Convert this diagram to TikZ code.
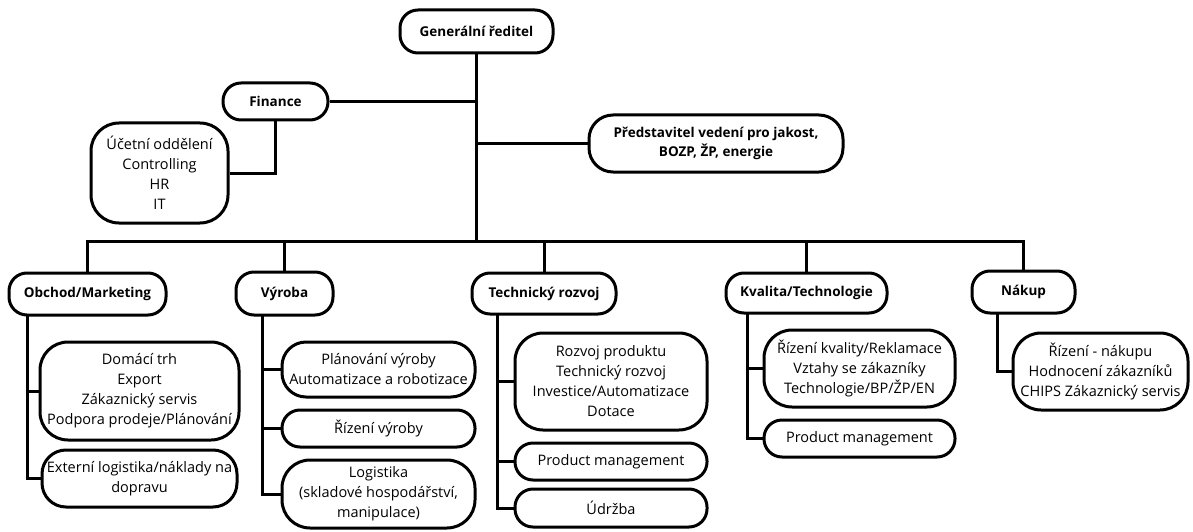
\documentclass[tikz,border=0pt]{standalone}
\usepackage{fontspec}
\setmainfont{Open Sans}
\begin{document}
\begin{tikzpicture}[x=1pt,y=-1pt,
  line width=3pt,
  lnk/.style={draw, line width=3pt},
  bx/.style={draw, line width=3pt, align=center, inner sep=0pt,
    rounded corners=18pt, fill=white},
  bigbx/.style={bx, rounded corners=28pt},
  hd/.style={bx, font=\bfseries\fontsize{13.5}{18.5}\selectfont},
  it/.style={font=\fontsize{14.5}{20}\selectfont},
]
\useasboundingbox (0,0) rectangle (1193,532);

% top level
\node[hd, minimum width=153pt, minimum height=43pt] (gr) at (476.5,31.5) {Generální ředitel};
\node[hd, minimum width=105pt, minimum height=37pt] (fin) at (275.5,101.5) {Finance};
\node[bigbx, it, minimum width=137pt, minimum height=100pt] (ucet) at (159.5,173)
  {Účetní oddělení\\Controlling\\HR\\IT};
\node[hd, rounded corners=24pt, minimum width=254pt, minimum height=57pt] (pred) at (716,143.5)
  {Představitel vedení pro jakost,\\BOZP, ŽP, energie};

% departments
\node[hd, minimum width=157pt, minimum height=42pt] (obch) at (87.5,294) {Obchod/Marketing};
\node[hd, minimum width=97pt, minimum height=43pt] (vyr) at (284.5,293.5) {Výroba};
\node[hd, minimum width=144pt, minimum height=41pt] (tech) at (544,293.5) {Technický rozvoj};
\node[hd, minimum width=161pt, minimum height=40pt] (kval) at (806.5,293) {Kvalita/Technologie};
\node[hd, minimum width=103pt, minimum height=42pt] (nak) at (1023.5,292) {Nákup};

% Obchod/Marketing
\node[bigbx, it, minimum width=199pt, minimum height=98pt] (dom) at (139.5,391)
  {Domácí trh\\Export\\Zákaznický servis\\Podpora prodeje/Plánování};
\node[bx, it, rounded corners=24pt, minimum width=195pt, minimum height=57pt] (ext) at (139.5,478.5)
  {Externí logistika/náklady na\\dopravu};

% Výroba
\node[bx, it, rounded corners=24pt, minimum width=193pt, minimum height=55pt] (plan) at (378.5,369.5)
  {Plánování výroby\\Automatizace a robotizace};
\node[bx, it, minimum width=193pt, minimum height=37pt] (rvyr) at (378.5,428.5) {Řízení výroby};
\node[bigbx, it, minimum width=193pt, minimum height=68pt] (log) at (378.5,494)
  {Logistika\\(skladové hospodářství,\\manipulace)};

% Technický rozvoj
\node[bigbx, it, minimum width=192pt, minimum height=97pt] (rozv) at (611,381.5)
  {Rozvoj produktu\\Technický rozvoj\\Investice/Automatizace\\Dotace};
\node[bx, it, minimum width=192pt, minimum height=37pt] (pma) at (611,461.5) {Product management};
\node[bx, it, minimum width=192pt, minimum height=38pt] (udr) at (611,508) {Údržba};

% Kvalita/Technologie
\node[bigbx, it, minimum width=191pt, minimum height=77pt] (rk) at (859.5,368.5)
  {Řízení kvality/Reklamace\\Vztahy se zákazníky\\Technologie/BP/ŽP/EN};
\node[bx, it, minimum width=191pt, minimum height=37pt] (pmb) at (859.5,438.5) {Product management};

% Nákup
\node[bigbx, it, minimum width=175pt, minimum height=77pt] (rn) at (1100.5,371.5)
  {Řízení - nákupu\\Hodnocení zákazníků\\CHIPS Zákaznický servis};

% connector anchors
\coordinate (bus) at (0,241);
\coordinate (obT) at (27,315);
\coordinate (vyT) at (262,315);
\coordinate (teT) at (497,314);
\coordinate (kvT) at (747,313);
\coordinate (naT) at (997,313);

% main spine
\draw[lnk] (gr.south) -- (gr.south |- bus);
\draw[lnk] (fin.east) -- (fin.east -| gr.south);
\draw[lnk] (fin.south) |- (ucet.east);
\draw[lnk] (pred.west) -- (pred.west -| gr.south);

% bus to departments
\draw[lnk, line join=miter] (obch.north) -- (obch.north |- bus) -- (nak.north |- bus) -- (nak.north);
\draw[lnk] (vyr.north) -- (vyr.north |- bus);
\draw[lnk] (tech.north) -- (tech.north |- bus);
\draw[lnk] (kval.north) -- (kval.north |- bus);

% department trunks
\draw[lnk] (obT) |- (ext.west);
\draw[lnk] (obT |- dom.west) -- (dom.west);
\draw[lnk] (vyT) |- (log.west);
\draw[lnk] (vyT |- plan.west) -- (plan.west);
\draw[lnk] (vyT |- rvyr.west) -- (rvyr.west);
\draw[lnk] (teT) |- (udr.west);
\draw[lnk] (teT |- rozv.west) -- (rozv.west);
\draw[lnk] (teT |- pma.west) -- (pma.west);
\draw[lnk] (kvT) |- (pmb.west);
\draw[lnk] (kvT |- rk.west) -- (rk.west);
\draw[lnk] (naT) |- (rn.west);
\end{tikzpicture}
\end{document}
